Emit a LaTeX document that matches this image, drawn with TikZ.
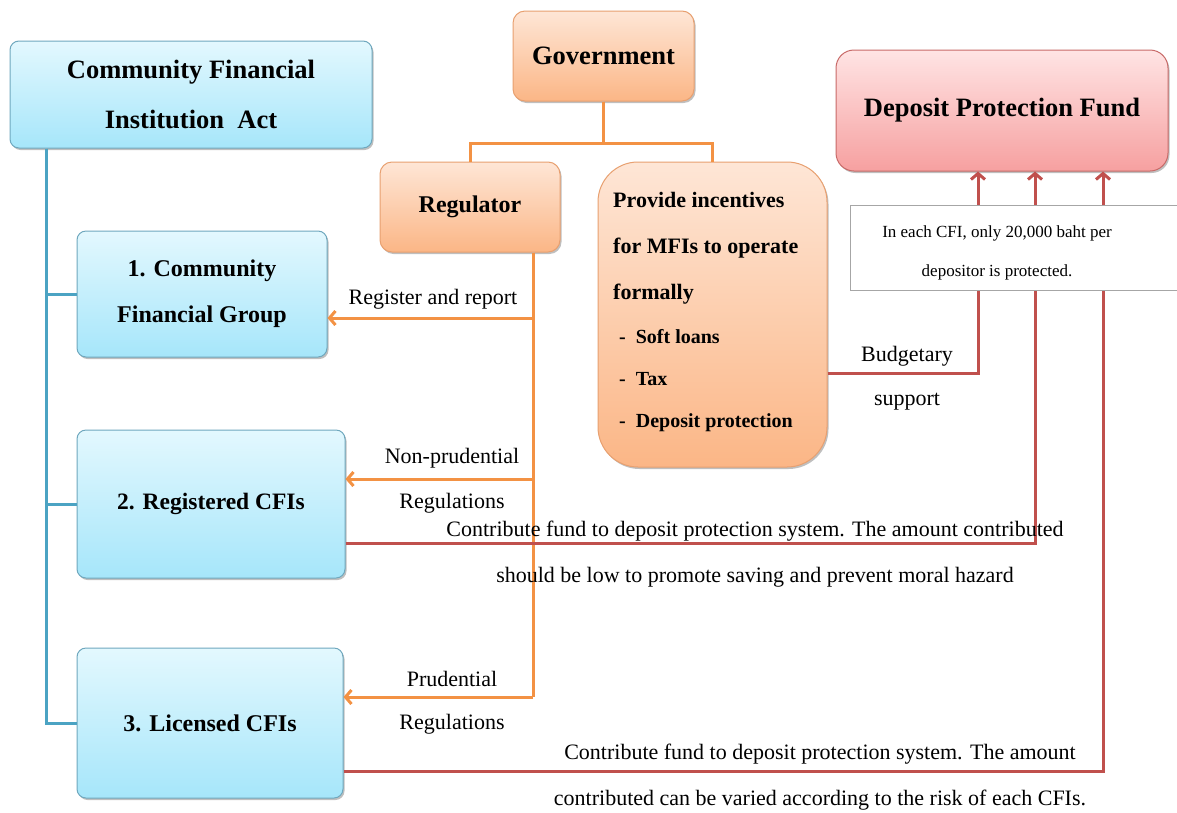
\documentclass[tikz,border=0pt]{standalone}
\usepackage{fontspec}
\setmainfont{Liberation Serif}
\usetikzlibrary{arrows.meta,shadows,calc}
\definecolor{bline}{HTML}{4BA3C3}
\definecolor{bdraw}{HTML}{6FA8BE}
\definecolor{btop}{HTML}{E3F8FE}
\definecolor{bbot}{HTML}{A6E6FA}
\definecolor{oline}{HTML}{F39244}
\definecolor{odraw}{HTML}{E8A070}
\definecolor{otop}{HTML}{FEE6D6}
\definecolor{obot}{HTML}{FBB686}
\definecolor{rline}{HTML}{C0504D}
\definecolor{rdraw}{HTML}{C86A68}
\definecolor{rtop}{HTML}{FFE4E4}
\definecolor{rbot}{HTML}{F6A0A0}
\tikzset{
  shad/.style={drop shadow={shadow xshift=1.5pt,shadow yshift=-2pt,opacity=0.25,fill=black}},
  bluebox/.style={shad,rounded corners=9pt,draw=bdraw,line width=1pt,top color=btop,bottom color=bbot,align=center,inner sep=0pt,
     font=\fontsize{24}{46}\selectfont\bfseries},
  orangebox/.style={shad,rounded corners=12pt,draw=odraw,line width=1pt,top color=otop,bottom color=obot,align=center,inner sep=0pt},
  redbox/.style={shad,rounded corners=18pt,draw=rdraw,line width=1pt,top color=rtop,bottom color=rbot,align=center,inner sep=0pt},
  bl/.style={draw=bline,line width=3pt},
  ol/.style={draw=oline,line width=3pt},
  rl/.style={draw=rline,line width=3pt},
  oarr/.style={ol,-{Straight Barb[length=6pt,width=14pt,line width=3pt]}},
  rarr/.style={rl,-{Straight Barb[length=6pt,width=14pt,line width=3pt]}},
  lab/.style={font=\fontsize{22}{26}\selectfont,inner sep=0pt},
  notet/.style={font=\fontsize{17}{20}\selectfont,inner sep=0pt},
}
\begin{document}
\begin{tikzpicture}[x=1pt,y=-1pt]
\useasboundingbox (0,0) rectangle (1177,812);
\fill[white] (0,0) rectangle (1177,812);

% blue boxes
\node[bluebox,minimum width=362pt,minimum height=107pt,font=\fontsize{26.5}{50}\selectfont\bfseries] (act) at (191,94.5) {Community Financial\\Institution\ \ Act};
\node[bluebox,minimum width=250pt,minimum height=126pt] (b1) at (202,294) {1. Community\\Financial Group};
\node[bluebox,minimum width=268pt,minimum height=148pt,font=\fontsize{23.5}{46}\selectfont\bfseries] (b2) at (211,504) {2. Registered CFIs};
\node[bluebox,minimum width=266pt,minimum height=150pt] (b3) at (210,723) {3. Licensed CFIs};

% orange boxes
\node[orangebox,minimum width=181pt,minimum height=90pt,font=\fontsize{26.5}{30}\selectfont\bfseries] (gov) at (603.5,56) {Government};
\node[orangebox,minimum width=180pt,minimum height=90pt,font=\fontsize{24}{28}\selectfont\bfseries] (reg) at (470,207) {Regulator};
\node[orangebox,rounded corners=40pt,minimum width=229pt,minimum height=305pt] (prov) at (712.5,314.5) {};
\node[anchor=base west,align=left,inner sep=0pt,font=\fontsize{22}{46}\selectfont\bfseries] (provt) at (613,299)
  {Provide incentives\\for MFIs to operate\\formally};
\node[anchor=base west,align=left,inner sep=0pt,font=\fontsize{20}{42}\selectfont\bfseries] (provl) at (619,427)
  {-\hspace{10pt}Soft loans\\-\hspace{10pt}Tax\\-\hspace{10pt}Deposit protection};

% red box
\node[redbox,minimum width=332pt,minimum height=121pt,font=\fontsize{26.5}{30}\selectfont\bfseries] (dpf) at (1002,110.5) {\raisebox{-3pt}{Deposit Protection Fund}};

% blue tree
\coordinate (trunk) at ([xshift=37pt]act.south west);
\draw[bl] (trunk) |- (b3.west);
\draw[bl] (trunk) |- (b1.west);
\draw[bl] (trunk) |- (b2.west);

% government tree
\draw[ol] (gov.south) -- ++(0,42) -| (reg.north);
\draw[ol] (gov.south) -- ++(0,42) -| (prov.north);

% regulator arrows
\coordinate (rv) at ([xshift=63pt]reg.south);
\coordinate (a1) at ([yshift=-24pt]b1.east);
\coordinate (a2) at ([yshift=25pt]b2.east);
\coordinate (a3) at ([yshift=26pt]b3.east);
\draw[ol] (rv) -- (rv |- a3);
\draw[oarr] (rv |- a1) -- (a1);
\draw[oarr] (rv |- a2) -- (a2);
\draw[oarr] (rv |- a3) -- (a3);

% red arrows to fund
\coordinate (p0) at ([yshift=-58.5pt]prov.east);
\coordinate (c2) at ([yshift=-39pt]b2.east);
\coordinate (c3) at ([yshift=-48pt]b3.east);
\draw[rarr] (p0) -| ([xshift=-24pt]dpf.south);
\draw[rarr] (c2) -| ([xshift=33pt]dpf.south);
\draw[rarr] (c3) -| ([xshift=101pt]dpf.south);

% note box
\node[draw=black!35,fill=white,line width=0.8pt,minimum width=327pt,minimum height=85pt,inner sep=0pt] (note) at (1013.5,247.5) {};
\node[notet] (n1) at (997,233) {In each CFI, only 20,000 baht per};
\node[notet] (n2) at (997,272) {depositor is protected.};

% labels
\node[lab] (l1) at (433,299) {Register and report};
\node[lab] (l2) at (452,458) {Non-prudential};
\node[lab] (l3) at (452,503) {Regulations};
\node[lab] (l4) at (452,679) {Prudential};
\node[lab] (l5) at (452,724) {Regulations};
\node[lab] (l6) at (907,356) {Budgetary};
\node[lab] (l7) at (907,402) {support};
\node[lab] (l8) at (755,531) {Contribute fund to deposit protection system. The amount contributed};
\node[lab] (l9) at (755,577) {should be low to promote saving and prevent moral hazard};
\node[lab] (l10) at (820,754) {Contribute fund to deposit protection system. The amount};
\node[lab] (l11) at (820,800) {contributed can be varied according to the risk of each CFIs.};
\end{tikzpicture}
\end{document}
